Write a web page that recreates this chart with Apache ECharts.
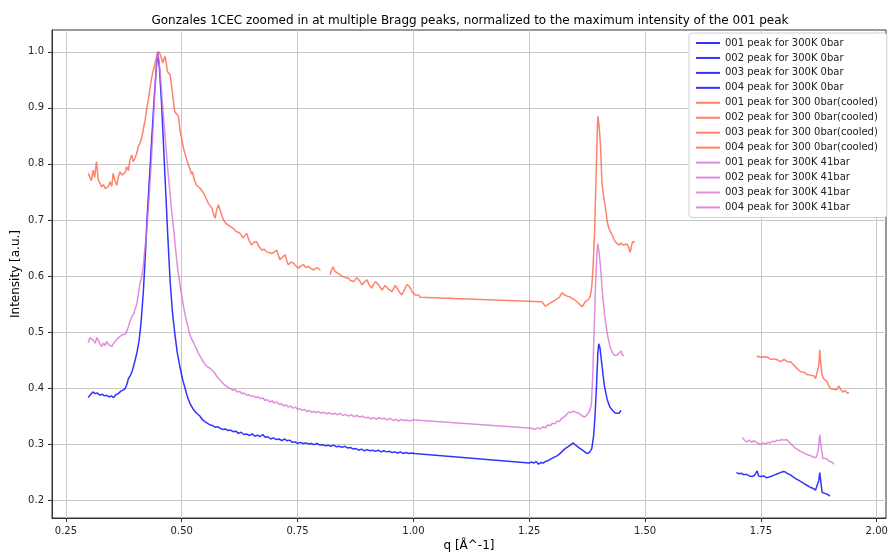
<!DOCTYPE html>
<html>
<head>
<meta charset="utf-8">
<script src="https://cdn.jsdelivr.net/npm/echarts@6/dist/echarts.min.js"></script>
<style>
  html, body { margin: 0; padding: 0; background: #fff; }
  #chart { width: 888px; height: 554px; }
</style>
</head>
<body>
<div id="chart"></div>
<script>
// tick labels
var xTicks = [0.25, 0.50, 0.75, 1.00, 1.25, 1.50, 1.75, 2.00];
var yTicks = [0.2, 0.3, 0.4, 0.5, 0.6, 0.7, 0.8, 0.9, 1.0];

// 300K 0bar  [q, intensity]
var blue001 = [[0.298,0.383],[0.303,0.388],[0.308,0.393],[0.313,0.390],[0.318,0.391],[0.323,0.387],[0.328,0.389],[0.333,0.386],[0.338,0.387],[0.343,0.384],[0.348,0.386],[0.353,0.383],[0.358,0.388],[0.363,0.390],[0.368,0.394],[0.372,0.391],[0.377,0.398],[0.381,0.405],[0.385,0.417],[0.389,0.422],[0.393,0.430],[0.398,0.445],[0.403,0.462],[0.408,0.485],[0.412,0.515],[0.417,0.570],[0.421,0.630],[0.425,0.700],[0.430,0.770],[0.436,0.855],[0.440,0.910],[0.445,0.970],[0.448,1.000],[0.452,0.970],[0.457,0.900],[0.462,0.810],[0.466,0.740],[0.470,0.670],[0.475,0.590],[0.480,0.535],[0.485,0.498],[0.490,0.465],[0.496,0.438],[0.502,0.415],[0.507,0.400],[0.512,0.385],[0.518,0.372],[0.525,0.362],[0.532,0.355],[0.539,0.350],[0.545,0.343],[0.550,0.340],[0.556,0.337],[0.561,0.334],[0.567,0.333],[0.572,0.330],[0.578,0.331],[0.583,0.328],[0.589,0.326],[0.594,0.327],[0.600,0.324],[0.605,0.325],[0.611,0.322],[0.617,0.323],[0.622,0.319],[0.628,0.321],[0.634,0.317],[0.640,0.318],[0.646,0.315],[0.652,0.318],[0.658,0.314],[0.664,0.316],[0.669,0.313],[0.675,0.317],[0.680,0.312],[0.686,0.313],[0.692,0.309],[0.698,0.311],[0.704,0.308],[0.710,0.309],[0.716,0.306],[0.722,0.309],[0.727,0.306],[0.733,0.307],[0.739,0.303],[0.745,0.304],[0.750,0.301],[0.756,0.303],[0.762,0.301],[0.768,0.302],[0.774,0.300],[0.780,0.301],[0.786,0.299],[0.792,0.301],[0.798,0.298]];
var blue002 = [[0.798,0.298],[0.804,0.299],[0.810,0.297],[0.816,0.298],[0.822,0.296],[0.828,0.298],[0.834,0.295],[0.840,0.296],[0.846,0.294],[0.852,0.296],[0.858,0.293],[0.864,0.294],[0.870,0.291],[0.876,0.292],[0.882,0.289],[0.888,0.291],[0.894,0.288],[0.900,0.290],[0.906,0.288],[0.912,0.289],[0.918,0.287],[0.924,0.289],[0.930,0.286],[0.936,0.288],[0.942,0.286],[0.948,0.287],[0.954,0.285],[0.960,0.286],[0.966,0.284],[0.972,0.286],[0.978,0.283],[0.984,0.285],[0.990,0.283],[0.996,0.284],[1.002,0.283],[1.250,0.266],[1.255,0.268],[1.260,0.266],[1.265,0.269]];
var blue003 = [[1.265,0.269],[1.270,0.264],[1.275,0.267],[1.280,0.266],[1.285,0.269],[1.290,0.270],[1.296,0.273],[1.300,0.275],[1.305,0.277],[1.310,0.279],[1.315,0.282],[1.320,0.286],[1.325,0.290],[1.330,0.293],[1.335,0.296],[1.340,0.299],[1.345,0.302],[1.350,0.298],[1.355,0.295],[1.360,0.292],[1.365,0.289],[1.370,0.286],[1.375,0.283],[1.380,0.285],[1.385,0.292],[1.389,0.315],[1.392,0.350],[1.395,0.400],[1.398,0.460],[1.400,0.479],[1.403,0.470],[1.407,0.440],[1.412,0.405],[1.418,0.380],[1.424,0.366],[1.430,0.360],[1.436,0.355],[1.440,0.354],[1.444,0.355],[1.448,0.360]];
var blue004 = [[1.697,0.249],[1.703,0.247],[1.708,0.248],[1.713,0.245],[1.719,0.246],[1.725,0.243],[1.731,0.242],[1.736,0.244],[1.742,0.252],[1.745,0.243],[1.750,0.242],[1.756,0.243],[1.762,0.240],[1.768,0.241],[1.774,0.243],[1.780,0.245],[1.786,0.247],[1.792,0.249],[1.798,0.251],[1.803,0.250],[1.808,0.247],[1.814,0.245],[1.820,0.241],[1.826,0.238],[1.832,0.235],[1.838,0.232],[1.844,0.229],[1.850,0.226],[1.856,0.223],[1.862,0.221],[1.868,0.218],[1.872,0.217],[1.875,0.235],[1.877,0.249],[1.879,0.235],[1.882,0.214],[1.888,0.212],[1.894,0.210],[1.899,0.207]];

// 300 0bar (cooled)
var tomato001 = [[0.298,0.783],[0.302,0.776],[0.305,0.770],[0.309,0.789],[0.312,0.776],[0.316,0.804],[0.320,0.771],[0.324,0.765],[0.327,0.759],[0.331,0.763],[0.335,0.756],[0.338,0.754],[0.342,0.760],[0.345,0.768],[0.349,0.760],[0.352,0.783],[0.356,0.770],[0.360,0.762],[0.363,0.776],[0.367,0.786],[0.371,0.780],[0.374,0.777],[0.378,0.785],[0.381,0.795],[0.385,0.788],[0.388,0.807],[0.392,0.816],[0.395,0.804],[0.399,0.810],[0.403,0.819],[0.406,0.830],[0.410,0.837],[0.414,0.848],[0.417,0.861],[0.421,0.878],[0.424,0.896],[0.428,0.915],[0.431,0.932],[0.434,0.948],[0.437,0.962],[0.441,0.975],[0.444,0.986],[0.448,0.995],[0.451,1.000],[0.453,0.998],[0.456,0.990],[0.459,0.980],[0.462,0.988],[0.464,0.992],[0.467,0.978],[0.469,0.965],[0.472,0.962],[0.475,0.959],[0.478,0.940],[0.480,0.926],[0.483,0.905],[0.485,0.893],[0.489,0.889],[0.493,0.885],[0.496,0.861],[0.500,0.845],[0.503,0.831],[0.507,0.818],[0.511,0.807],[0.514,0.800],[0.518,0.790],[0.521,0.782],[0.523,0.786],[0.527,0.772],[0.532,0.762],[0.536,0.759],[0.539,0.757],[0.543,0.754],[0.547,0.748],[0.550,0.745],[0.554,0.736],[0.557,0.730],[0.561,0.726],[0.565,0.721],[0.568,0.712],[0.572,0.703],[0.575,0.716],[0.579,0.727],[0.581,0.730],[0.585,0.712],[0.590,0.700],[0.595,0.694],[0.600,0.691],[0.605,0.688],[0.611,0.685],[0.616,0.680],[0.621,0.678],[0.626,0.676],[0.632,0.668],[0.636,0.672],[0.640,0.676],[0.645,0.664],[0.651,0.655],[0.656,0.660],[0.662,0.661],[0.667,0.652],[0.673,0.646],[0.678,0.648],[0.683,0.643],[0.689,0.642],[0.694,0.640],[0.700,0.643],[0.705,0.646],[0.709,0.636],[0.712,0.629],[0.718,0.634],[0.723,0.638],[0.727,0.626],[0.730,0.620],[0.736,0.625],[0.741,0.623],[0.746,0.618],[0.752,0.614],[0.757,0.618],[0.763,0.620],[0.768,0.615],[0.773,0.617],[0.779,0.613],[0.784,0.611],[0.790,0.614],[0.795,0.614],[0.799,0.610]];
var tomato002 = [[0.820,0.602],[0.824,0.612],[0.827,0.616],[0.831,0.608],[0.834,0.610],[0.838,0.604],[0.842,0.606],[0.845,0.600],[0.849,0.602],[0.853,0.597],[0.856,0.600],[0.860,0.596],[0.864,0.592],[0.867,0.594],[0.871,0.590],[0.874,0.593],[0.878,0.597],[0.881,0.599],[0.885,0.590],[0.889,0.584],[0.893,0.588],[0.896,0.590],[0.900,0.593],[0.904,0.585],[0.907,0.582],[0.910,0.578],[0.914,0.585],[0.918,0.590],[0.921,0.593],[0.925,0.584],[0.928,0.580],[0.932,0.575],[0.936,0.578],[0.939,0.583],[0.943,0.581],[0.947,0.576],[0.950,0.574],[0.954,0.572],[0.957,0.577],[0.961,0.583],[0.964,0.581],[0.968,0.574],[0.971,0.570],[0.975,0.566],[0.979,0.572],[0.983,0.580],[0.987,0.585],[0.990,0.587],[0.994,0.578],[0.997,0.572],[1.000,0.569],[1.004,0.566],[1.008,0.569],[1.011,0.566],[1.015,0.562],[1.018,0.560],[1.277,0.554],[1.281,0.550],[1.285,0.546]];
var tomato003 = [[1.285,0.546],[1.290,0.549],[1.296,0.552],[1.300,0.551],[1.306,0.557],[1.310,0.556],[1.315,0.562],[1.321,0.570],[1.326,0.566],[1.332,0.564],[1.337,0.563],[1.342,0.560],[1.347,0.558],[1.353,0.554],[1.358,0.550],[1.364,0.545],[1.368,0.550],[1.371,0.554],[1.375,0.552],[1.378,0.558],[1.382,0.565],[1.385,0.581],[1.388,0.620],[1.391,0.676],[1.393,0.740],[1.395,0.795],[1.397,0.860],[1.398,0.885],[1.400,0.875],[1.402,0.855],[1.404,0.830],[1.407,0.766],[1.410,0.745],[1.414,0.724],[1.419,0.694],[1.422,0.685],[1.425,0.680],[1.429,0.673],[1.433,0.665],[1.437,0.660],[1.440,0.658],[1.444,0.655],[1.448,0.659],[1.452,0.655],[1.456,0.658],[1.461,0.657],[1.464,0.652],[1.468,0.642],[1.471,0.655],[1.473,0.661],[1.476,0.658],[1.478,0.660]];
var tomato004 = [[1.741,0.457],[1.745,0.458],[1.749,0.455],[1.753,0.457],[1.757,0.456],[1.760,0.459],[1.764,0.455],[1.768,0.453],[1.771,0.451],[1.775,0.454],[1.779,0.452],[1.782,0.453],[1.786,0.450],[1.790,0.448],[1.793,0.447],[1.797,0.449],[1.800,0.451],[1.803,0.450],[1.807,0.447],[1.810,0.449],[1.814,0.447],[1.818,0.444],[1.822,0.440],[1.825,0.438],[1.829,0.434],[1.832,0.432],[1.836,0.429],[1.839,0.427],[1.843,0.428],[1.846,0.425],[1.850,0.424],[1.853,0.426],[1.857,0.423],[1.861,0.420],[1.864,0.422],[1.868,0.417],[1.872,0.418],[1.875,0.440],[1.877,0.468],[1.879,0.445],[1.882,0.424],[1.885,0.417],[1.889,0.414],[1.893,0.411],[1.896,0.405],[1.900,0.399],[1.904,0.401],[1.907,0.398],[1.911,0.401],[1.914,0.397],[1.918,0.404],[1.922,0.398],[1.926,0.393],[1.929,0.396],[1.932,0.395],[1.936,0.391],[1.940,0.392]];

// 300K 41bar
var orchid001 = [[0.298,0.481],[0.302,0.490],[0.305,0.492],[0.309,0.485],[0.313,0.480],[0.317,0.490],[0.320,0.488],[0.324,0.478],[0.327,0.474],[0.331,0.480],[0.335,0.476],[0.338,0.483],[0.342,0.478],[0.346,0.476],[0.349,0.474],[0.353,0.480],[0.357,0.484],[0.360,0.486],[0.364,0.490],[0.367,0.492],[0.371,0.495],[0.374,0.498],[0.378,0.496],[0.381,0.501],[0.385,0.510],[0.389,0.520],[0.392,0.527],[0.396,0.532],[0.399,0.535],[0.403,0.550],[0.406,0.565],[0.410,0.587],[0.414,0.600],[0.417,0.617],[0.420,0.645],[0.424,0.676],[0.427,0.710],[0.430,0.745],[0.434,0.800],[0.438,0.860],[0.442,0.930],[0.446,0.985],[0.448,1.000],[0.451,0.985],[0.455,0.945],[0.459,0.900],[0.463,0.860],[0.467,0.820],[0.471,0.780],[0.475,0.745],[0.479,0.710],[0.483,0.680],[0.487,0.645],[0.491,0.615],[0.496,0.585],[0.500,0.565],[0.504,0.545],[0.508,0.528],[0.512,0.514],[0.516,0.500],[0.520,0.490],[0.525,0.482],[0.529,0.475],[0.532,0.470],[0.536,0.462],[0.540,0.456],[0.543,0.452],[0.547,0.446],[0.551,0.444],[0.555,0.438],[0.559,0.436],[0.563,0.434],[0.568,0.430],[0.572,0.426],[0.576,0.420],[0.580,0.418],[0.584,0.413],[0.588,0.410],[0.592,0.406],[0.596,0.404],[0.600,0.401],[0.605,0.399],[0.611,0.396],[0.616,0.397],[0.620,0.393],[0.625,0.394],[0.630,0.390],[0.635,0.391],[0.640,0.387],[0.645,0.388],[0.650,0.385],[0.655,0.386],[0.660,0.383],[0.665,0.384],[0.670,0.381],[0.675,0.382],[0.680,0.378],[0.685,0.379],[0.690,0.375],[0.695,0.377],[0.700,0.373],[0.705,0.375],[0.710,0.371],[0.715,0.372],[0.720,0.368],[0.725,0.370],[0.730,0.366],[0.735,0.368],[0.740,0.364],[0.745,0.366],[0.750,0.362],[0.755,0.363],[0.760,0.360],[0.765,0.362],[0.770,0.358],[0.775,0.360],[0.780,0.357],[0.785,0.358],[0.790,0.356],[0.795,0.358],[0.800,0.355]];
var orchid002 = [[0.800,0.355],[0.806,0.357],[0.812,0.354],[0.818,0.356],[0.824,0.353],[0.830,0.355],[0.836,0.352],[0.842,0.355],[0.848,0.351],[0.854,0.353],[0.860,0.350],[0.866,0.352],[0.872,0.349],[0.878,0.351],[0.884,0.348],[0.890,0.350],[0.896,0.347],[0.902,0.348],[0.908,0.345],[0.914,0.347],[0.920,0.344],[0.926,0.347],[0.932,0.345],[0.938,0.346],[0.944,0.343],[0.950,0.346],[0.956,0.342],[0.962,0.344],[0.968,0.341],[0.974,0.344],[0.980,0.342],[0.986,0.343],[0.992,0.341],[0.998,0.343],[1.004,0.343],[1.256,0.328],[1.262,0.326],[1.268,0.329]];
var orchid003 = [[1.268,0.329],[1.274,0.327],[1.280,0.331],[1.285,0.329],[1.290,0.334],[1.296,0.333],[1.300,0.337],[1.305,0.336],[1.310,0.341],[1.315,0.340],[1.320,0.346],[1.325,0.348],[1.330,0.352],[1.335,0.357],[1.340,0.356],[1.345,0.359],[1.350,0.357],[1.355,0.356],[1.360,0.353],[1.365,0.350],[1.370,0.348],[1.375,0.353],[1.380,0.358],[1.384,0.370],[1.387,0.420],[1.390,0.500],[1.393,0.580],[1.396,0.640],[1.398,0.658],[1.401,0.640],[1.404,0.615],[1.408,0.570],[1.412,0.535],[1.416,0.510],[1.420,0.490],[1.425,0.472],[1.430,0.462],[1.435,0.458],[1.440,0.459],[1.444,0.461],[1.448,0.466],[1.451,0.459],[1.455,0.458]];
var orchid004 = [[1.710,0.312],[1.715,0.306],[1.720,0.304],[1.725,0.307],[1.730,0.303],[1.735,0.306],[1.740,0.303],[1.745,0.301],[1.750,0.299],[1.755,0.302],[1.760,0.300],[1.765,0.303],[1.770,0.302],[1.775,0.305],[1.780,0.304],[1.785,0.307],[1.790,0.306],[1.795,0.308],[1.800,0.307],[1.805,0.308],[1.810,0.304],[1.815,0.300],[1.820,0.296],[1.825,0.292],[1.830,0.290],[1.835,0.287],[1.840,0.285],[1.845,0.283],[1.850,0.281],[1.855,0.280],[1.860,0.278],[1.865,0.276],[1.870,0.277],[1.874,0.290],[1.877,0.317],[1.880,0.295],[1.884,0.274],[1.888,0.272],[1.892,0.274],[1.896,0.270],[1.900,0.271],[1.904,0.267],[1.908,0.264]];

var groups = [
    { label: ' peak for 300K 0bar', color: 'rgba(0,0,255,0.8)', sets: [blue001, blue002, blue003, blue004] },
    { label: ' peak for 300 0bar(cooled)', color: 'rgba(255,99,71,0.8)', sets: [tomato001, tomato002, tomato003, tomato004] },
    { label: ' peak for 300K 41bar', color: 'rgba(218,112,214,0.8)', sets: [orchid001, orchid002, orchid003, orchid004] }
];
var peaks = ['001', '002', '003', '004'];

var series = [];
groups.forEach(function (g) {
    g.sets.forEach(function (d, i) {
        series.push({
            name: peaks[i] + g.label,
            type: 'line',
            data: d,
            symbol: 'none',
            color: g.color,
            lineStyle: { width: 1.5, color: g.color },
            animation: false
        });
    });
});

var font = 'DejaVu Sans';
var chart = echarts.init(document.getElementById('chart'));
chart.setOption({
    animation: false,
    backgroundColor: '#fff',
    title: {
        text: 'Gonzales 1CEC zoomed in at multiple Bragg peaks, normalized to the maximum intensity of the 001 peak',
        left: 465,
        top: 10,
        textAlign: 'center',
        textStyle: { fontFamily: font, fontSize: 12, fontWeight: 'normal', color: '#000' }
    },
    grid: {
        left: 52, right: 2, top: 30, bottom: 36,
        outerBoundsMode: 'none',
        containLabel: false,
        show: true, borderColor: '#333', borderWidth: 1, backgroundColor: 'transparent'
    },
    legend: {
        orient: 'vertical',
        left: 689, top: 33,
        padding: [5, 9, 5, 6],
        itemWidth: 24, itemHeight: 10, itemGap: 4.95,
        itemStyle: { opacity: 0 },
        lineStyle: { width: 2 },
        backgroundColor: '#fff',
        borderColor: '#d0d0d0', borderWidth: 1, borderRadius: 3,
        textStyle: { fontFamily: font, fontSize: 10, color: '#222' },
        data: series.map(function (s) { return s.name; })
    },
    xAxis: {
        type: 'value',
        min: 0.22, max: 2.02,
        name: 'q [Å^-1]',
        nameLocation: 'middle',
        nameGap: 22,
        nameMoveOverlap: false,
        nameTextStyle: { fontFamily: font, fontSize: 12, color: '#000' },
        axisLine: { show: true, lineStyle: { color: '#333' } },
        axisTick: { show: true, length: 4, customValues: xTicks, lineStyle: { color: '#333' } },
        axisLabel: {
            customValues: xTicks, margin: 8,
            fontFamily: font, fontSize: 10, color: '#222',
            formatter: function (v) { return v.toFixed(2); }
        },
        splitLine: { show: true, lineStyle: { color: '#c8c8c8', width: 1 } }
    },
    yAxis: {
        type: 'value',
        min: 0.168, max: 1.039,
        name: 'Intensity [a.u.]',
        nameLocation: 'middle',
        nameGap: 30,
        nameMoveOverlap: false,
        nameTextStyle: { fontFamily: font, fontSize: 12, color: '#000' },
        axisLine: { show: true, lineStyle: { color: '#333' } },
        axisTick: { show: true, length: 4, customValues: yTicks, lineStyle: { color: '#333' } },
        axisLabel: {
            customValues: yTicks, margin: 8,
            fontFamily: font, fontSize: 10, color: '#222',
            formatter: function (v) { return v.toFixed(1); }
        },
        splitLine: { show: true, lineStyle: { color: '#c8c8c8', width: 1 } }
    },
    series: series
});
</script>
</body>
</html>
